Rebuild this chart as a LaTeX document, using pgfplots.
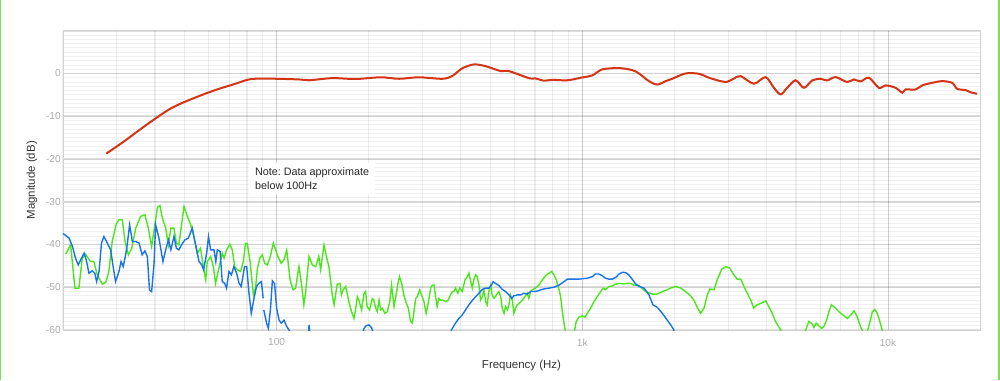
\documentclass[border=0pt]{standalone}
\usepackage{fontspec}
\setmainfont{Liberation Sans}
\usepackage{pgfplots}
\pgfplotsset{compat=1.18}
\definecolor{redc}{RGB}{212,52,22}
\definecolor{bluec}{RGB}{25,115,232}
\definecolor{greenc}{RGB}{76,230,28}
\definecolor{framegreen}{RGB}{120,225,80}
\frenchspacing
\begin{document}
\begin{tikzpicture}
\useasboundingbox (-47.25pt,-37.5pt) rectangle (702.75pt,247.5pt);
\begin{axis}[
  at={(0,0)}, anchor=south west,
  width=687.75pt, height=224.5pt, scale only axis,
  xmin=1.30103, xmax=4.30103, ymin=-60, ymax=10,
  xtick={2,3,4}, xticklabels={100,1k,10k},
  minor xtick={1.30103,1.47712,1.60206,1.69897,1.77815,1.84510,1.90309,1.95424,
               2.30103,2.47712,2.60206,2.69897,2.77815,2.84510,2.90309,2.95424,
               3.30103,3.47712,3.60206,3.69897,3.77815,3.84510,3.90309,3.95424},
  ytick={-60,-50,-40,-30,-20,-10,0,10},
  yticklabels={-60,-50,-40,-30,-20,-10,0,{}},
  minor ytick={-59,-58,...,9},
  grid=both,
  major x grid style={black, opacity=0.2, line width=0.6pt},
  major y grid style={black, opacity=0.13, line width=1.3pt},
  minor x grid style={black, opacity=0.07, line width=0.9pt},
  minor y grid style={black, opacity=0.06, line width=0.55pt},
  major tick length=0pt, minor tick length=0pt,
  axis line style={draw=gray!35},
  tick label style={font=\fontsize{7.6}{9}\selectfont, text=gray!65},
  yticklabel style={inner sep=1.5pt},
  xticklabel style={yshift=-3pt},
  xlabel={Frequency (Hz)}, ylabel={Magnitude (dB)},
  label style={font=\fontsize{8.6}{10}\selectfont, text=black!80},
  xlabel style={at={(axis description cs:0.5,-0.120)}, anchor=center},
  ylabel style={at={(axis description cs:-0.034,0.5)}, anchor=center},
  unbounded coords=jump,
]
% green
\addplot[greenc, line width=1.05pt] coordinates {
(1.310,-42.27)(1.326,-40.08)(1.340,-50.23)(1.353,-50.23)(1.364,-43.20)(1.375,-42.27)
(1.391,-43.99)(1.402,-43.99)(1.413,-47.11)(1.430,-49.30)(1.441,-48.83)(1.451,-46.33)
(1.462,-39.30)(1.475,-35.24)(1.484,-34.22)(1.495,-34.22)(1.504,-39.30)(1.515,-42.42)
(1.526,-40.86)(1.539,-36.17)(1.555,-33.44)(1.569,-33.05)(1.580,-36.17)(1.591,-40.47)
(1.600,-36.17)(1.610,-31.33)(1.618,-30.86)(1.626,-33.83)(1.637,-36.17)(1.646,-40.08)
(1.654,-36.17)(1.664,-36.17)(1.672,-39.69)(1.680,-40.08)(1.689,-35.39)(1.697,-31.09)
(1.708,-33.44)(1.719,-35.39)(1.730,-38.52)(1.740,-42.03)(1.751,-40.86)(1.760,-45.16)
(1.768,-48.28)(1.773,-44.0)(1.784,-42.8)(1.793,-45.2)(1.800,-49.1)(1.811,-45.6)
(1.822,-42.0)(1.828,-43.2)(1.836,-41.3)(1.847,-39.9)(1.855,-41.3)(1.863,-45.2)
(1.871,-45.9)(1.882,-46.3)(1.891,-44.0)(1.898,-39.7)(1.904,-39.7)(1.913,-44.0)
(1.924,-51.8)(1.931,-50.2)(1.937,-45.6)(1.945,-43.2)(1.953,-42.4)(1.961,-44.4)
(1.969,-44.8)(1.978,-43.2)(1.989,-39.7)(1.997,-41.3)(2.004,-42.8)(2.015,-44.4)
(2.024,-43.6)(2.033,-41.3)(2.044,-48.3)(2.054,-50.6)(2.062,-50.2)(2.073,-45.2)
(2.081,-49.1)(2.089,-54.1)(2.095,-51.0)(2.106,-42.8)(2.117,-44.8)(2.128,-45.2)
(2.138,-42.8)(2.144,-45.9)(2.155,-40.1)(2.164,-43.2)(2.171,-45.2)(2.182,-51.8)
(2.188,-54.1)(2.198,-49.3)(2.207,-49.1)(2.212,-51.8)(2.218,-50.6)(2.226,-49.8)
(2.237,-53.6)(2.245,-55.7)(2.253,-57.3)(2.258,-55.3)(2.264,-52.2)(2.269,-53.0)
(2.278,-55.3)(2.286,-51.4)(2.291,-51.0)(2.296,-54.5)(2.304,-55.3)(2.313,-52.6)
(2.318,-53.0)(2.324,-54.9)(2.329,-55.7)(2.335,-53.0)(2.340,-55.3)(2.346,-54.9)
(2.354,-56.1)(2.362,-55.7)(2.370,-53.4)(2.376,-49.5)(2.384,-54.5)(2.389,-52.6)
(2.397,-49.1)(2.402,-47.5)(2.409,-49.1)(2.416,-51.8)(2.424,-53.7)(2.431,-54.9)
(2.438,-58.0)(2.444,-58.4)(2.449,-55.7)(2.455,-52.6)(2.460,-52.2)(2.468,-50.6)
(2.474,-51.8)(2.482,-53.4)(2.489,-56.1)(2.495,-54.1)(2.504,-50.2)(2.509,-49.5)
(2.515,-49.5)(2.520,-52.2)(2.525,-54.5)(2.531,-52.6)(2.536,-53.0)(2.544,-53.0)
(2.553,-53.4)(2.561,-53.0)(2.569,-51.8)(2.575,-51.0)(2.580,-51.0)(2.585,-50.2)
(2.593,-51.4)(2.599,-50.2)(2.607,-51.0)(2.616,-48.3)(2.624,-47.5)(2.629,-46.7)
(2.634,-48.3)(2.640,-50.2)(2.645,-48.3)(2.651,-47.1)(2.656,-47.5)(2.662,-49.5)
(2.667,-53.0)(2.673,-52.2)(2.678,-50.6)(2.684,-53.4)(2.689,-54.1)(2.694,-51.0)
(2.700,-49.5)(2.705,-51.8)(2.711,-52.6)(2.716,-52.2)(2.722,-51.4)
(2.727,-51.0)(2.733,-52.2)(2.738,-54.9)(2.744,-56.1)(2.749,-54.5)(2.755,-55.3)
(2.760,-54.1)(2.765,-51.8)(2.771,-53.0)(2.776,-56.1)(2.782,-54.9)(2.787,-54.1)
(2.795,-53.7)(2.804,-53.0)(2.812,-52.2)(2.820,-51.4)(2.825,-52.6)(2.831,-51.0)
(2.836,-50.6)(2.847,-50.2)(2.858,-49.5)(2.869,-48.3)(2.880,-47.3)(2.891,-46.7)
(2.900,-46.3)(2.907,-47.1)(2.915,-48.3)(2.924,-50.6)(2.929,-52.2)(2.934,-55.3)
(2.940,-58.4)(2.945,-60.4)(2.951,-62.3)(2.969,-62.3)(2.975,-60.0)(2.980,-58.0)
(2.989,-57.0)(3.000,-56.7)(3.009,-57.0)(3.016,-56.1)(3.027,-54.9)(3.038,-53.4)
(3.049,-52.2)(3.060,-51.0)(3.068,-50.2)(3.076,-50.6)(3.087,-49.8)(3.098,-49.7)
(3.109,-49.3)(3.120,-49.1)(3.133,-49.2)(3.147,-49.1)(3.158,-49.1)(3.169,-49.5)
(3.180,-49.5)(3.185,-49.6)(3.207,-51.0)(3.229,-51.6)(3.245,-51.6)(3.262,-51.0)
(3.278,-50.6)(3.289,-50.2)(3.305,-49.8)(3.322,-50.2)(3.338,-51.0)(3.354,-52.0)
(3.365,-53.0)(3.376,-54.7)(3.387,-56.1)(3.398,-54.9)(3.409,-51.8)(3.417,-50.4)
(3.431,-50.6)(3.441,-48.3)(3.456,-45.8)(3.469,-45.2)(3.482,-45.5)(3.496,-47.1)
(3.507,-48.1)(3.518,-48.1)(3.534,-50.6)(3.551,-53.0)(3.561,-54.9)(3.572,-54.1)
(3.583,-53.8)(3.600,-53.2)(3.610,-54.5)(3.621,-56.1)(3.632,-58.0)(3.649,-60.0)
(3.660,-61.2)(3.725,-61.2)(3.741,-58.0)(3.750,-58.4)(3.758,-59.4)(3.765,-58.4)
(3.774,-59.0)(3.783,-59.6)(3.790,-59.2)(3.799,-57.7)(3.807,-55.7)(3.815,-54.1)
(3.829,-54.9)(3.839,-55.7)(3.853,-56.5)(3.867,-57.3)(3.878,-56.5)(3.889,-55.5)
(3.899,-56.9)(3.910,-59.2)(3.918,-60.4)(3.932,-60.4)(3.940,-58.4)(3.949,-55.7)
(3.957,-55.2)(3.965,-56.1)(3.972,-57.7)(3.981,-60.0)(3.987,-61.2)
};
% blue
\addplot[bluec, line width=1.05pt] coordinates {
(1.288,-37.34)(1.304,-37.58)(1.321,-38.52)(1.332,-40.47)(1.342,-43.20)(1.351,-44.77)
(1.359,-43.59)(1.370,-42.03)(1.377,-43.59)(1.386,-46.72)(1.397,-46.17)(1.405,-46.72)
(1.411,-48.67)(1.419,-46.33)(1.427,-39.69)(1.435,-38.13)(1.446,-39.69)(1.457,-41.25)
(1.465,-45.16)(1.473,-48.67)(1.484,-46.33)(1.491,-43.99)(1.498,-45.16)(1.506,-42.42)
(1.511,-40.08)(1.519,-35.39)(1.528,-39.30)(1.539,-39.30)(1.550,-39.69)(1.560,-42.42)
(1.569,-41.48)(1.577,-42.81)(1.584,-50.63)(1.591,-51.02)(1.599,-44.38)(1.604,-35.39)
(1.615,-38.52)(1.628,-43.99)(1.637,-41.25)(1.646,-38.91)(1.654,-41.25)(1.664,-38.13)
(1.672,-40.86)(1.680,-41.25)(1.689,-40.08)(1.700,-38.91)(1.711,-38.52)(1.724,-36.17)
(1.735,-40.08)(1.746,-43.99)(1.755,-44.77)(1.761,-45.94)(1.771,-42.03)(1.777,-38.13)
(1.784,-41.25)(1.795,-41.25)(1.801,-43.99)(1.806,-41.25)(1.815,-41.64)(1.822,-48.67)
(1.830,-49.06)(1.836,-50.23)(1.844,-46.33)(1.852,-47.11)(1.860,-45.16)(1.869,-46.72)
(1.877,-49.06)(1.884,-49.84)(1.895,-45.16)(1.902,-45.16)(1.909,-51.02)(1.917,-56.09)
(1.926,-52.58)(1.934,-49.84)(1.942,-49.06)(1.950,-48.67)(1.956,-52.58)
(1.957,nan)
(1.958,-55.3)(1.967,-58.4)(1.973,-59.6)(1.980,-54.9)(1.986,-48.5)(1.993,-49.1)
(2.000,-54.9)(2.008,-57.7)(2.015,-58.4)(2.024,-57.7)(2.033,-59.2)(2.044,-60.4)
(2.050,-62)(2.100,-62)(2.104,-61)(2.106,-58.8)(2.109,-61)(2.115,-62)
(2.275,-62)(2.280,-61)(2.286,-59.6)(2.293,-59.0)(2.302,-58.8)(2.311,-59.5)(2.316,-61)
(2.322,-62)(2.555,-62)
(2.564,-61.2)(2.575,-59.6)(2.585,-58.4)(2.596,-57.3)(2.607,-56.5)(2.618,-55.3)
(2.629,-54.1)(2.640,-53.1)(2.651,-52.2)(2.662,-51.4)(2.673,-50.5)(2.684,-50.2)
(2.694,-50.2)(2.703,-49.5)(2.708,-48.7)(2.716,-49.1)
(2.727,-49.6)(2.738,-50.5)(2.749,-51.0)(2.760,-51.8)(2.769,-52.6)(2.776,-52.0)
(2.787,-51.8)(2.798,-51.8)(2.809,-51.4)(2.820,-51.6)(2.831,-51.0)(2.842,-51.0)
(2.853,-50.9)(2.864,-50.6)(2.874,-50.4)(2.891,-50.2)(2.907,-50.0)(2.924,-49.5)
(2.940,-48.7)(2.951,-48.1)(2.967,-48.1)(2.989,-48.1)(3.000,-48.0)(3.016,-47.9)
(3.033,-47.5)(3.043,-46.9)(3.054,-46.9)(3.065,-47.3)(3.076,-47.9)(3.087,-48.1)
(3.098,-48.1)(3.109,-47.7)(3.120,-46.9)(3.131,-46.5)(3.142,-46.6)(3.152,-47.1)
(3.163,-48.1)(3.174,-49.2)(3.185,-49.8)(3.202,-50.2)(3.218,-51.8)(3.231,-54.1)
(3.245,-54.7)(3.262,-56.1)(3.278,-57.7)(3.289,-58.8)(3.298,-59.8)(3.303,-60.8)(3.310,-62)
};
% red
\addplot[redc, line width=1.5pt, smooth] coordinates {
(1.4426,-18.75)(1.5005,-15.9)(1.5823,-11.6)(1.6585,-8.0)(1.7458,-5.3)(1.8113,-3.6)
(1.8548,-2.65)(1.9094,-1.4)(1.9529,-1.2)(2.0,-1.25)(2.0729,-1.4)(2.1057,-1.6)
(2.1819,-1.1)(2.2584,-1.3)(2.3402,-0.9)(2.4001,-1.25)(2.4655,-0.9)(2.5417,-1.25)
(2.5744,-0.6)(2.6071,1.2)(2.6454,2.1)(2.6837,1.7)(2.7328,0.55)(2.7599,0.55)
(2.8253,-1.1)(2.8472,-1.17)(2.8744,-1.7)(2.9015,-1.5)(2.9506,-1.6)(2.9997,-0.94)
(3.0324,-0.47)(3.0651,0.94)(3.1197,1.25)(3.1632,0.78)(3.1852,0)(3.2179,-1.8)
(3.2450,-2.6)(3.2725,-1.8)(3.2941,-1.25)(3.3379,0)(3.3814,-0.08)(3.4142,-1.0)
(3.4524,-1.8)(3.4740,-1.95)(3.4959,-1.2)(3.5178,-0.63)(3.5613,-2.4)(3.5996,-0.86)
(3.6268,-3.36)(3.6487,-4.9)(3.6703,-3.36)(3.6977,-1.6)(3.7249,-3.36)(3.7521,-1.64)
(3.7795,-1.25)(3.8011,-1.64)(3.8286,-0.86)(3.8665,-2.0)(3.8885,-1.4)(3.9104,-1.87)
(3.9375,-1.0)(3.9702,-3.36)(3.9921,-2.8)(4.0249,-3.36)(4.0465,-4.5)(4.0576,-3.75)
(4.0903,-3.75)(4.1119,-2.8)(4.1446,-2.2)(4.1773,-1.8)(4.2100,-2.2)(4.2264,-3.6)
(4.2539,-3.9)(4.2702,-4.4)(4.2918,-4.76)
};
\node[fill=white, anchor=north west, align=left, inner xsep=4.5pt, inner ysep=3.5pt,
  font=\fontsize{8.1}{10.8}\selectfont, text=black!85]
  at (axis cs:1.909,-20.8) {Note: Data approximate\\below 100Hz};
\end{axis}
\draw[framegreen, line width=1.2pt] (-46.8pt,-37.5pt) -- (-46.8pt,247.5pt);
\draw[framegreen, line width=1.2pt] (702.1pt,-37.5pt) -- (702.1pt,247.5pt);
\end{tikzpicture}
\end{document}
